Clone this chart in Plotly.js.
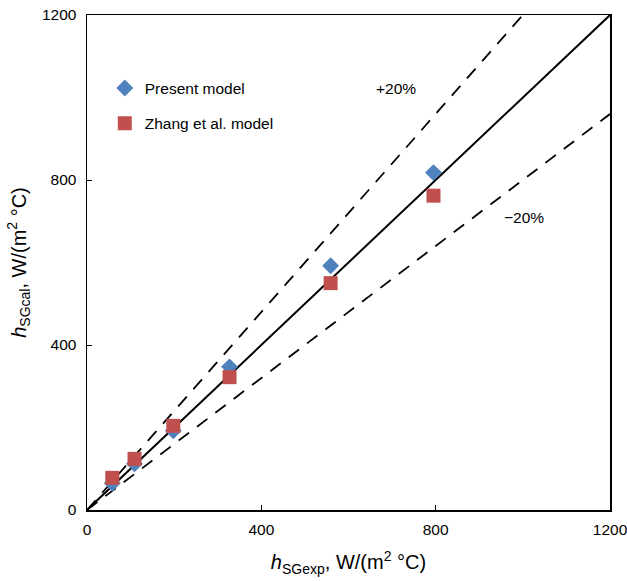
<!DOCTYPE html>
<html>
<head>
<meta charset="utf-8">
<script src="https://cdn.plot.ly/plotly-3.0.1.min.js"></script>
<style>body{margin:0;background:#fff}#chart{width:627px;height:581px}</style>
</head>
<body>
<div id="chart"></div>
<script>
const hExp = [58, 109, 198, 327, 559, 795];
const presentModel = [65, 112, 192, 347, 592, 818];
const zhangModel = [78, 124, 204, 322, 550, 762];
const refX = [0, 1200];
const plus20X = [0, 1000];
const minus20X = [0, 1200];
const tickVals = [0, 400, 800, 1200];

const font = 'Arial, "Liberation Sans", sans-serif';

const traces = [
  {x: refX, y: refX, mode: 'lines', line: {color: '#000', width: 2}, showlegend: false, hoverinfo: 'skip'},
  {x: plus20X, y: plus20X.map(v => v * 1.2), mode: 'lines', line: {color: '#000', width: 1.8, dash: '13px,10px'}, showlegend: false, hoverinfo: 'skip'},
  {x: minus20X, y: minus20X.map(v => v * 0.8), mode: 'lines', line: {color: '#000', width: 1.8, dash: '13px,10px'}, showlegend: false, hoverinfo: 'skip'},
  {x: hExp, y: presentModel, mode: 'markers', name: 'Present model', legendgroup: 'a',
   marker: {symbol: 'diamond', size: 13, color: '#4F81BD'}},
  {x: hExp, y: zhangModel, mode: 'markers', name: 'Zhang et al. model', legendgroup: 'b',
   marker: {symbol: 'square', size: 14, color: '#C0504D'}}
];

const axisCommon = {
  range: [0, 1200], tickvals: tickVals, ticks: 'inside', ticklen: 5, tickwidth: 1, tickcolor: '#000',
  showgrid: false, zeroline: false, showline: true, linecolor: '#000', linewidth: 1.5, mirror: true,
  ticklabeloverflow: 'allow',
  tickfont: {family: font, size: 15.5, color: '#000'}
};

const layout = {
  width: 627, height: 581,
  margin: {l: 87, r: 17, t: 15, b: 71},
  paper_bgcolor: '#fff', plot_bgcolor: '#fff',
  font: {family: font, color: '#000'},
  xaxis: Object.assign({}, axisCommon, {
    ticklabelstandoff: 5,
    title: {text: '<i>h</i><sub>SGexp</sub>, W/(m<sup>2</sup> °C)', font: {family: font, size: 20}, standoff: 18}
  }),
  yaxis: Object.assign({}, axisCommon, {
    ticklabelstandoff: 6,
    title: {text: '<i>h</i><sub>SGcal</sub>, W/(m<sup>2</sup> °C)', font: {family: font, size: 20}, standoff: 10}
  }),
  legend: {x: 0.034, y: 0.886, xanchor: 'left', yanchor: 'top', bgcolor: 'rgba(0,0,0,0)',
    font: {family: font, size: 15.5, color: '#000'}, traceorder: 'grouped', tracegroupgap: 12, itemwidth: 30},
  annotations: [
    {x: 709, y: 1023, xref: 'x', yref: 'y', text: '+20%', showarrow: false, font: {family: font, size: 15.5}},
    {x: 1003, y: 708, xref: 'x', yref: 'y', text: '\u221220%', showarrow: false, font: {family: font, size: 15.5}}
  ],
  showlegend: true
};

Plotly.newPlot('chart', traces, layout, {displayModeBar: false, staticPlot: true});
</script>
</body>
</html>
